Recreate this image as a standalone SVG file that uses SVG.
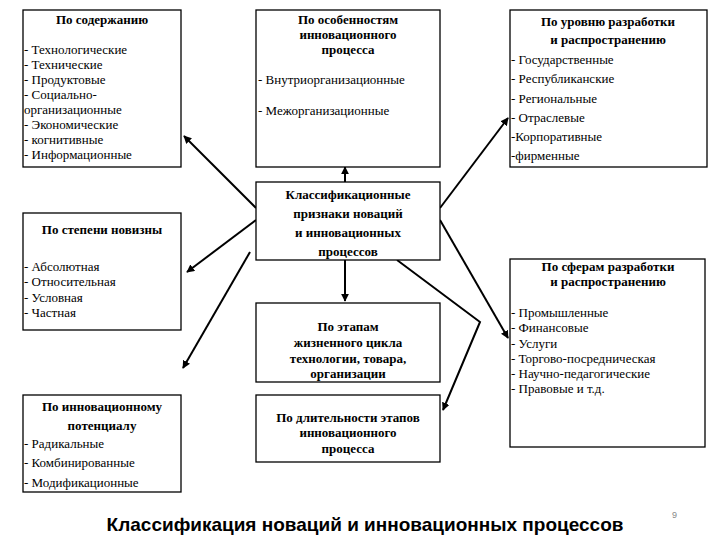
<svg xmlns="http://www.w3.org/2000/svg" width="720" height="540" viewBox="0 0 720 540">
<style>
.b{fill:#fff;stroke:#000;stroke-width:1.3}
.h{font-weight:bold;text-anchor:middle}
.c{stroke:#000;stroke-width:2;fill:none}
</style>
<defs><marker id="a" viewBox="0 0 10 10" refX="9" refY="5" markerWidth="4" markerHeight="4" orient="auto"><path d="M0,0L10,5L0,10z"/></marker></defs>
<rect width="720" height="540" fill="#fff"/>
<g id="connectors">
<line class="c" x1="256" y1="208" x2="184" y2="136" marker-end="url(#a)"/>
<line class="c" x1="256" y1="220" x2="187" y2="272" marker-end="url(#a)"/>
<line class="c" x1="250" y1="252" x2="183" y2="368" marker-end="url(#a)"/>
<line class="c" x1="345" y1="182" x2="345" y2="167" marker-end="url(#a)"/>
<line class="c" x1="345" y1="260" x2="345" y2="301" marker-end="url(#a)"/>
<polyline class="c" points="397,260 480,322 443,410" marker-end="url(#a)"/>
<line class="c" x1="440" y1="208" x2="508" y2="118" marker-end="url(#a)"/>
<line class="c" x1="440" y1="220" x2="508" y2="338" marker-end="url(#a)"/>
</g>
<g font-family="Liberation Serif, serif" font-size="13">
<g id="n1"><rect class="b" x="23" y="10" width="158" height="157"/>
<text class="h" x="102" y="24">По содержанию</text>
<text x="24" y="54">- Технологические</text><text x="24" y="69">- Технические</text><text x="24" y="84">- Продуктовые</text><text x="24" y="99">- Социально-</text><text x="24" y="114">организационные</text><text x="24" y="129">- Экономические</text><text x="24" y="144">- когнитивные</text><text x="24" y="159">- Информационные</text></g>
<g id="n2"><rect class="b" x="256" y="10" width="184" height="157"/>
<text class="h" x="348" y="24">По особенностям</text><text class="h" x="348" y="39">инновационного</text><text class="h" x="348" y="54">процесса</text>
<text x="258" y="84">- Внутриорганизационные</text><text x="258" y="115">- Межорганизационные</text></g>
<g id="n3"><rect class="b" x="510" y="10" width="197" height="157"/>
<text class="h" x="608" y="26">По уровню разработки</text><text class="h" x="608" y="44">и распространению</text>
<text x="511" y="64">- Государственные</text><text x="511" y="83">- Республиканские</text><text x="511" y="103">- Региональные</text><text x="511" y="122">- Отраслевые</text><text x="511" y="141">-Корпоративные</text><text x="511" y="160">-фирменные</text></g>
<g id="center"><rect class="b" x="256" y="182" width="184" height="78"/>
<text class="h" x="348" y="199">Классификационные</text><text class="h" x="348" y="218">признаки новаций</text><text class="h" x="348" y="237">и инновационных</text><text class="h" x="348" y="256">процессов</text></g>
<g id="n4"><rect class="b" x="23" y="213" width="158" height="117"/>
<text class="h" x="102" y="234">По степени новизны</text>
<text x="24" y="271">- Абсолютная</text><text x="24" y="286">- Относительная</text><text x="24" y="302">- Условная</text><text x="24" y="317">- Частная</text></g>
<g id="n5"><rect class="b" x="510" y="259" width="195" height="188"/>
<text class="h" x="608" y="271">По сферам разработки</text><text class="h" x="608" y="286">и распространению</text>
<text x="511" y="317">- Промышленные</text><text x="511" y="332">- Финансовые</text><text x="511" y="348">- Услуги</text><text x="511" y="363">- Торгово-посредническая</text><text x="511" y="378">- Научно-педагогические</text><text x="511" y="393">- Правовые и т.д.</text></g>
<g id="n6"><rect class="b" x="256" y="303" width="184" height="79"/>
<text class="h" x="348" y="331">По этапам</text><text class="h" x="348" y="347">жизненного цикла</text><text class="h" x="348" y="363">технологии, товара,</text><text class="h" x="348" y="378">организации</text></g>
<g id="n7"><rect class="b" x="23" y="395" width="158" height="97"/>
<text class="h" x="102" y="411">По инновационному</text><text class="h" x="102" y="430">потенциалу</text>
<text x="24" y="448">- Радикальные</text><text x="24" y="467">- Комбинированные</text><text x="24" y="487">- Модификационные</text></g>
<g id="n8"><rect class="b" x="256" y="395" width="184" height="67"/>
<text class="h" x="348" y="422">По длительности этапов</text><text class="h" x="348" y="437">инновационного</text><text class="h" x="348" y="453">процесса</text></g>
</g>
<text x="365" y="531" font-family="Liberation Sans, sans-serif" font-size="19" font-weight="bold" text-anchor="middle">Классификация новаций и инновационных процессов</text>
<text x="672" y="518" font-family="Liberation Sans, sans-serif" font-size="9" fill="#888">9</text>
</svg>
